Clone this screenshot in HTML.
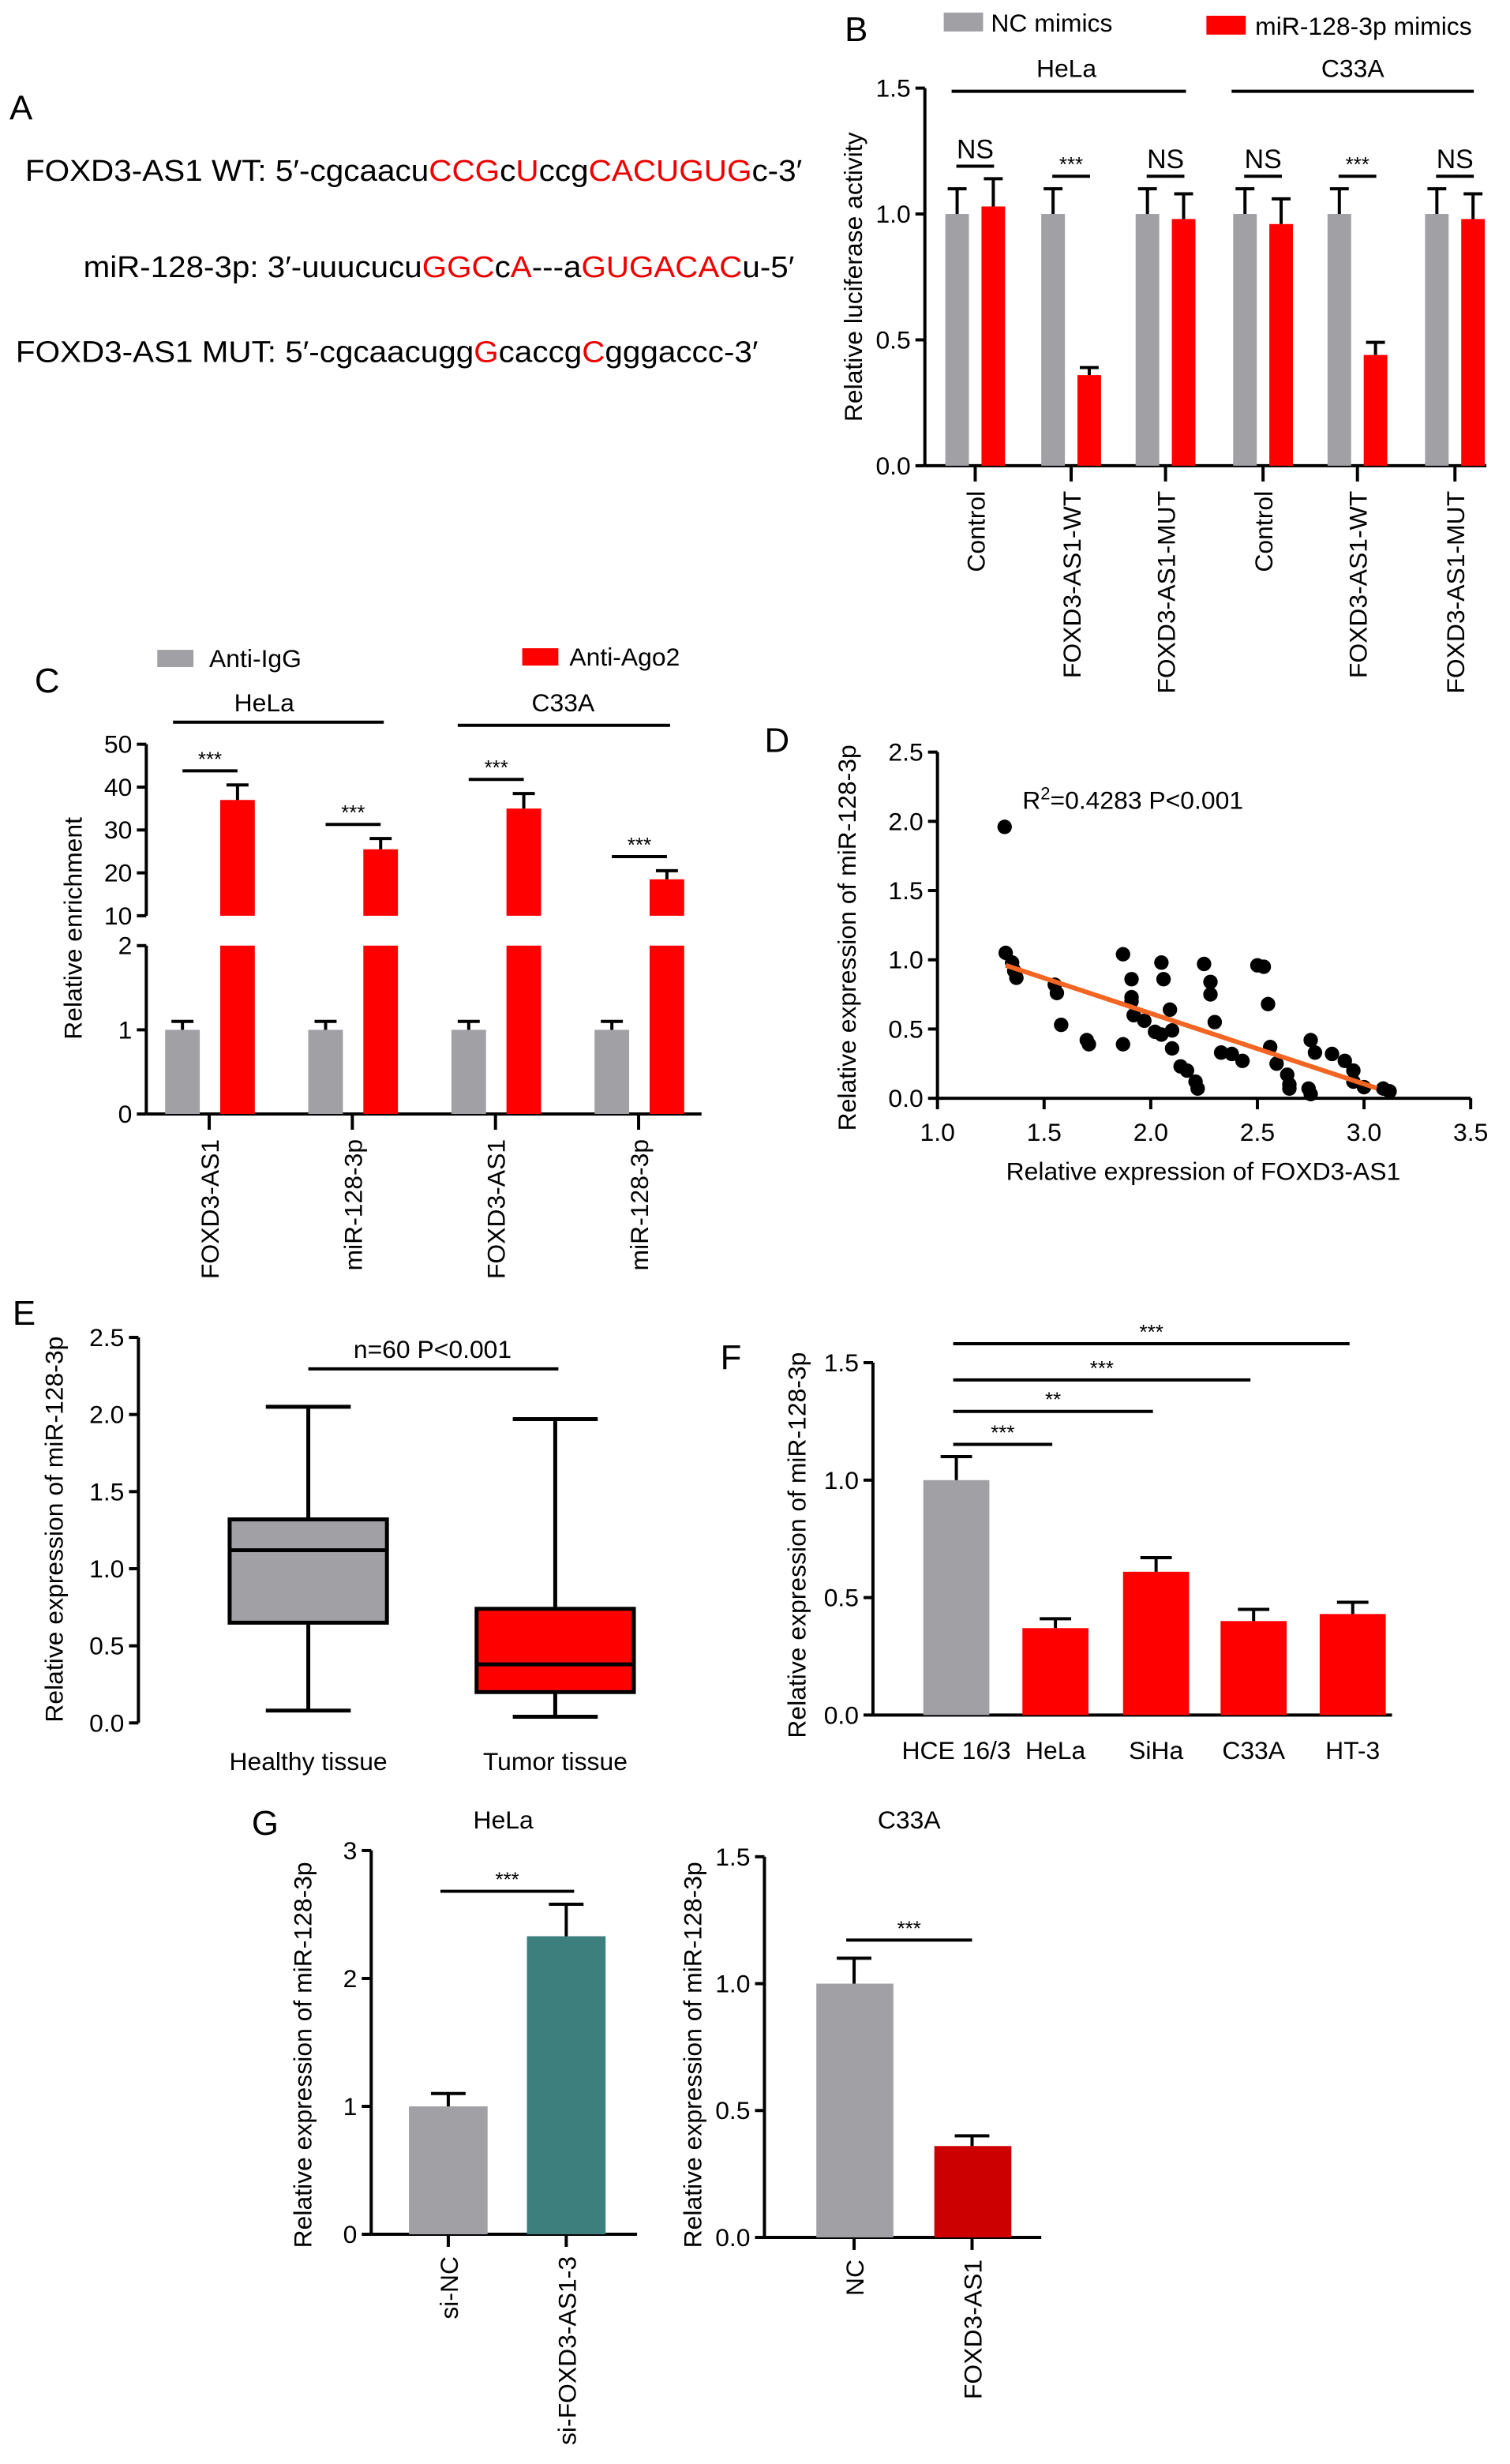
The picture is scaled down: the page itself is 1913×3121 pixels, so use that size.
<!DOCTYPE html>
<html><head><meta charset="utf-8"><style>
html,body{margin:0;padding:0;background:#fff;}
svg{display:block;font-family:"Liberation Sans",Arial,sans-serif;}
</style></head><body>
<svg id="fig" width="1913" height="3121" viewBox="0 0 960 1566" preserveAspectRatio="none" xmlns="http://www.w3.org/2000/svg">
<g font-size="19">
<text x="6" y="76" font-size="22">A</text>
<text x="16" y="115" textLength="494" lengthAdjust="spacingAndGlyphs">FOXD3-AS1 WT: 5′-cgcaacu<tspan fill="#e00">CCG</tspan>c<tspan fill="#e00">U</tspan>ccg<tspan fill="#e00">CACUGUG</tspan>c-3′</text>
<text x="53" y="176" textLength="452" lengthAdjust="spacingAndGlyphs">miR-128-3p: 3′-uuucucu<tspan fill="#e00">GGC</tspan>c<tspan fill="#e00">A</tspan>---a<tspan fill="#e00">GUGACAC</tspan>u-5′</text>
<text x="10" y="230" textLength="472" lengthAdjust="spacingAndGlyphs">FOXD3-AS1 MUT: 5′-cgcaacugg<tspan fill="#e00">G</tspan>caccg<tspan fill="#e00">C</tspan>gggaccc-3′</text>
</g>
</svg>
<script>
const NS='http://www.w3.org/2000/svg';
const svg=document.getElementById('fig');
function mk(tag,a,parent){const e=document.createElementNS(NS,tag);for(const k in a)e.setAttribute(k,a[k]);(parent||svg).appendChild(e);return e;}
function txt(s,a,parent){const e=mk('text',a,parent);e.textContent=s;return e;}
const GRAY='#a0a0a5',RED='#ff0000';

// ---------- Panel B data ----------
const bCats=['Control','FOXD3-AS1-WT','FOXD3-AS1-MUT','Control','FOXD3-AS1-WT','FOXD3-AS1-MUT'];
const bNC=[1,1,1,1,1,1];
const bNCerr=[0.1,0.1,0.1,0.1,0.1,0.1];
const bMim=[1.03,0.36,0.98,0.96,0.44,0.98];
const bMimErr=[0.11,0.03,0.1,0.1,0.05,0.1];
const bSig=['NS','***','NS','NS','***','NS'];
const bTicks=[0,0.5,1.0,1.5];

// ---------- Panel C data ----------
const cCats=['FOXD3-AS1','miR-128-3p','FOXD3-AS1','miR-128-3p'];
const cIgG=[1,1,1,1];
const cIgGErr=[0.1,0.1,0.1,0.1];
const cAgo=[37,25.5,35,18.5];
const cAgoErr=[3.5,2.5,3.5,2];
const cTicksLow=[0,1,2];
const cTicksHigh=[10,20,30,40,50];

// ---------- Panel D data ----------
const dX=[1.315,1.32,1.35,1.36,1.37,1.55,1.56,1.58,1.70,1.71,1.87,1.87,1.91,1.91,1.91,1.92,1.97,2.02,2.05,2.05,2.06,2.09,2.10,2.10,2.14,2.17,2.21,2.22,2.25,2.28,2.28,2.30,2.33,2.38,2.43,2.50,2.53,2.55,2.56,2.59,2.64,2.65,2.65,2.74,2.75,2.75,2.77,2.85,2.91,2.95,2.95,3.00,3.09,3.12];
const dY=[1.96,1.05,0.98,0.92,0.87,0.82,0.76,0.53,0.42,0.39,1.04,0.39,0.86,0.73,0.70,0.60,0.56,0.48,0.46,0.98,0.86,0.64,0.49,0.36,0.23,0.20,0.12,0.07,0.97,0.84,0.75,0.55,0.33,0.32,0.27,0.96,0.95,0.68,0.37,0.25,0.17,0.10,0.07,0.07,0.03,0.42,0.33,0.32,0.27,0.20,0.12,0.08,0.07,0.05];
const dFit=[-0.51,1.633];
const dFitRange=[1.32,3.06];
const dXTicks=[1.0,1.5,2.0,2.5,3.0,3.5];
const dYTicks=[0,0.5,1.0,1.5,2.0,2.5];

// ---------- Panel E data ----------
const eCats=['Healthy tissue','Tumor tissue'];
const eMin=[0.08,0.04];
const eQ1=[0.65,0.2];
const eMed=[1.12,0.38];
const eQ3=[1.32,0.74];
const eMax=[2.05,1.97];
const eTicks=[0,0.5,1.0,1.5,2.0,2.5];

// ---------- Panel F data ----------
const fCats=['HCE 16/3','HeLa','SiHa','C33A','HT-3'];
const fVals=[1.0,0.37,0.61,0.40,0.43];
const fErr=[0.1,0.04,0.06,0.05,0.05];
const fSig=['***','**','***','***'];
const fTicks=[0,0.5,1.0,1.5];

// ---------- Panel G data ----------
const g1Cats=['si-NC','si-FOXD3-AS1-3'];
const g1Vals=[1.0,2.33];
const g1Err=[0.1,0.25];
const g1Ticks=[0,1,2,3];
const g2Cats=['NC','FOXD3-AS1'];
const g2Vals=[1.0,0.36];
const g2Err=[0.1,0.04];
const g2Ticks=[0,0.5,1.0,1.5];

function fmt1(v){return v.toFixed(1);}
function yAxis(g,x,yTop,yBot,ticks,scale,f){
  const ax=mk('line',{x1:x,y1:yTop,x2:x,y2:yBot,stroke:'#000','stroke-width':2},g);
  
  
  ticks.forEach(t=>{const y=scale(t);
    const tk=mk('line',{x1:x-6,y1:y,x2:x,y2:y,stroke:'#000','stroke-width':2},g);
    
    
    const l=txt(f(t),{x:x-9,y:y+5.5,'font-size':16,'text-anchor':'end'},g);
    
    
  });
}
function vTitle(g,s,x,y){const t=txt(s,{x:x,y:y,'font-size':16,'text-anchor':'middle',transform:`rotate(-90 ${x} ${y})`},g);
  
  }
function rotLabel(g,s,x,y){const t=txt(s,{x:x,y:y,'font-size':16,'text-anchor':'end',transform:`rotate(-90 ${x} ${y})`},g);
  
  }
function bar(g,x,w,y0,y1,fill){const r=mk('rect',{x:x,y:Math.min(y0,y1),width:w,height:Math.abs(y0-y1),fill:fill},g);return r;}
function err(g,cx,yv,ye,w){mk('line',{x1:cx,y1:yv,x2:cx,y2:ye,stroke:'#000','stroke-width':2},g);
  mk('line',{x1:cx-w,y1:ye,x2:cx+w,y2:ye,stroke:'#000','stroke-width':2},g);}
function sig(g,x1,x2,y,s){const l=mk('line',{x1:x1,y1:y,x2:x2,y2:y,stroke:'#000','stroke-width':2},g);
  
  
  const t=txt(s,{x:(x1+x2)/2,y:s==='NS'?y-5:y-3,'font-size':s==='NS'?17:13,'text-anchor':'middle'},g);
  
  }
function panelLabel(s,x,y){const t=txt(s,{x:x,y:y,'font-size':22});
  
  }

// ===== Panel B =====
{const g=mk('g',{});


panelLabel('B',537,26);
const y=v=>296-v*160, ax=588;
const tx=[620,681,741,803,863,925];
yAxis(g,ax,56,296,bTicks,y,fmt1);
mk('line',{x1:ax,y1:296,x2:945,y2:296,stroke:'#000','stroke-width':2},g);
vTitle(g,'Relative luciferase activity',548,176);
bCats.forEach((c,i)=>{const t=tx[i];
  const b1=bar(g,t-19,15,y(0),y(bNC[i]),GRAY);
  
  
  err(g,t-11.5,y(bNC[i]),y(bNC[i]+bNCerr[i]),6);
  const b2=bar(g,t+4,15,y(0),y(bMim[i]),RED);
  
  
  err(g,t+11.5,y(bMim[i]),y(bMim[i]+bMimErr[i]),6);
  mk('line',{x1:t,y1:296,x2:t,y2:306,stroke:'#000','stroke-width':2},g);
  rotLabel(g,c,t+6,312);
  const top=Math.max(bNC[i]+bNCerr[i],bMim[i]+bMimErr[i]);
  sig(g,t-12,t+12,y(top)-8,bSig[i]);
});
mk('line',{x1:605,y1:58,x2:754,y2:58,stroke:'#000','stroke-width':2},g);
mk('line',{x1:783,y1:58,x2:937,y2:58,stroke:'#000','stroke-width':2},g);
txt('HeLa',{x:678,y:49,'font-size':16,'text-anchor':'middle'},g);
txt('C33A',{x:860,y:49,'font-size':16,'text-anchor':'middle'},g);
const lg1=mk('g',{},g);


mk('rect',{x:600,y:8,width:25,height:12,fill:GRAY},lg1);
txt('NC mimics',{x:630,y:20,'font-size':16},lg1);
const lg2=mk('g',{},g);


mk('rect',{x:767,y:10,width:25,height:12,fill:RED},lg2);
txt('miR-128-3p mimics',{x:798,y:22,'font-size':16},lg2);
}

// ===== Panel C =====
{const g=mk('g',{});


panelLabel('C',22,440);
const yl=v=>708-v*53.5, yh=v=>582-(v-10)*2.725, ax=93;
const tx=[133,224,315,406];
yAxis(g,ax,601,708,cTicksLow,yl,v=>String(v));
yAxis(g,ax,473,582,cTicksHigh,yh,v=>String(v));
mk('line',{x1:ax,y1:708,x2:446,y2:708,stroke:'#000','stroke-width':2},g);
vTitle(g,'Relative enrichment',52,590);
cCats.forEach((c,i)=>{const t=tx[i];
  const b1=bar(g,t-28,22,yl(0),yl(cIgG[i]),GRAY);
  
  
  err(g,t-17,yl(cIgG[i]),yl(cIgG[i]+cIgGErr[i]),7);
  const b2=bar(g,t+7,22,yl(0),yl(2),RED);
  
  
  const b3=bar(g,t+7,22,yh(10),yh(cAgo[i]),RED);
  
  
  err(g,t+18,yh(cAgo[i]),yh(cAgo[i]+cAgoErr[i]),7);
  mk('line',{x1:t,y1:708,x2:t,y2:718,stroke:'#000','stroke-width':2},g);
  rotLabel(g,c,t+6,724);
  sig(g,t-17,t+18,yh(cAgo[i]+cAgoErr[i])-9,'***');
});
mk('line',{x1:110,y1:459,x2:244,y2:459,stroke:'#000','stroke-width':2},g);
mk('line',{x1:291,y1:461,x2:426,y2:461,stroke:'#000','stroke-width':2},g);
txt('HeLa',{x:168,y:452,'font-size':16,'text-anchor':'middle'},g);
txt('C33A',{x:358,y:452,'font-size':16,'text-anchor':'middle'},g);
const lg1=mk('g',{},g);


mk('rect',{x:100,y:413,width:23,height:11,fill:GRAY},lg1);
txt('Anti-IgG',{x:133,y:424,'font-size':16},lg1);
const lg2=mk('g',{},g);


mk('rect',{x:332,y:412,width:23,height:11,fill:RED},lg2);
txt('Anti-Ago2',{x:362,y:423,'font-size':16},lg2);
}

// ===== Panel D =====
{const g=mk('g',{});


panelLabel('D',486,478);
const x=v=>596+(v-1)*135.6, y=v=>698-v*88;
yAxis(g,596,478,698,dYTicks,y,fmt1);
const xa=mk('line',{x1:596,y1:698,x2:935,y2:698,stroke:'#000','stroke-width':2},g);


dXTicks.forEach(t=>{mk('line',{x1:x(t),y1:698,x2:x(t),y2:705,stroke:'#000','stroke-width':2},g);
  const l=txt(fmt1(t),{x:x(t),y:725,'font-size':16,'text-anchor':'middle'},g);
  
  });
vTitle(g,'Relative expression of miR-128-3p',544,596);
const xt=txt('Relative expression of FOXD3-AS1',{x:765,y:750,'font-size':16,'text-anchor':'middle'},g);


dX.forEach((v,i)=>{const c=mk('circle',{cx:x(v),cy:y(dY[i]),r:4.6,fill:'#000'},g);
  
  });
const fl=mk('line',{x1:x(dFitRange[0]),y1:y(dFit[0]*dFitRange[0]+dFit[1]),x2:x(dFitRange[1]),y2:y(dFit[0]*dFitRange[1]+dFit[1]),stroke:'#f26522','stroke-width':3},g);


const st=txt('',{x:650,y:514,'font-size':16},g);
st.innerHTML='R<tspan dy="-6" font-size="11">2</tspan><tspan dy="6">=0.4283 P&lt;0.001</tspan>';


}

// ===== Panel E =====
{const g=mk('g',{});


panelLabel('E',8,842);
const y=v=>1095-v*98, ax=88;
yAxis(g,ax,850,1095,eTicks,y,fmt1);
vTitle(g,'Relative expression of miR-128-3p',40,972);
const cx=[196,353], fills=[GRAY,RED];
eCats.forEach((c,i)=>{const b=mk('g',{},g);
  
  
  mk('line',{x1:cx[i],y1:y(eMax[i]),x2:cx[i],y2:y(eMin[i]),stroke:'#000','stroke-width':2.5},b);
  mk('line',{x1:cx[i]-27,y1:y(eMax[i]),x2:cx[i]+27,y2:y(eMax[i]),stroke:'#000','stroke-width':2.5},b);
  mk('line',{x1:cx[i]-27,y1:y(eMin[i]),x2:cx[i]+27,y2:y(eMin[i]),stroke:'#000','stroke-width':2.5},b);
  mk('rect',{x:cx[i]-50,y:y(eQ3[i]),width:100,height:y(eQ1[i])-y(eQ3[i]),fill:fills[i],stroke:'#000','stroke-width':2.5},b);
  mk('line',{x1:cx[i]-50,y1:y(eMed[i]),x2:cx[i]+50,y2:y(eMed[i]),stroke:'#000','stroke-width':2.5},b);
  const l=txt(c,{x:cx[i],y:1125,'font-size':16,'text-anchor':'middle'},g);
  
  
});
const sl=mk('line',{x1:196,y1:870,x2:355,y2:870,stroke:'#000','stroke-width':2},g);


txt('n=60 P<0.001',{x:275,y:863,'font-size':16,'text-anchor':'middle'},g);
}

// ===== Panel F =====
{const g=mk('g',{});


panelLabel('F',458,870);
const y=v=>1090-v*149.3, ax=555;
const tx=[608,671,735,797,860];
yAxis(g,ax,866,1090,fTicks,y,fmt1);
mk('line',{x1:ax,y1:1090,x2:885,y2:1090,stroke:'#000','stroke-width':2},g);
vTitle(g,'Relative expression of miR-128-3p',512,982);
fCats.forEach((c,i)=>{const t=tx[i];
  const b=bar(g,t-21,42,y(0),y(fVals[i]),i===0?GRAY:RED);
  
  
  err(g,t,y(fVals[i]),y(fVals[i]+fErr[i]),10);
  const l=txt(c,{x:t,y:1118,'font-size':16,'text-anchor':'middle'},g);
  
  
});
const sy=[918,897,877,854];
fSig.forEach((s,i)=>sig(g,606,tx[i+1]-2,sy[i],s));
}

// ===== Panel G =====
{const g=mk('g',{});


panelLabel('G',160,1166);
const y=v=>1420-v*81.3, ax=236, tx=[285,360], fills=[GRAY,'#3d7f7d'];
yAxis(g,ax,1176,1420,g1Ticks,y,v=>String(v));
mk('line',{x1:ax,y1:1420,x2:405,y2:1420,stroke:'#000','stroke-width':2},g);
vTitle(g,'Relative expression of miR-128-3p',198,1306);
txt('HeLa',{x:320,y:1162,'font-size':16,'text-anchor':'middle'},g);
g1Cats.forEach((c,i)=>{const b=bar(g,tx[i]-25,50,y(0),y(g1Vals[i]),fills[i]);
  
  
  err(g,tx[i],y(g1Vals[i]),y(g1Vals[i]+g1Err[i]),11);
  mk('line',{x1:tx[i],y1:1420,x2:tx[i],y2:1428,stroke:'#000','stroke-width':2},g);
  rotLabel(g,c,tx[i]+6,1434);});
sig(g,280,365,1202,'***');
}
{const g=mk('g',{});


const y=v=>1422-v*161.3, ax=486, tx=[543,618], fills=[GRAY,'#cc0000'];
yAxis(g,ax,1180,1422,g2Ticks,y,fmt1);
mk('line',{x1:ax,y1:1422,x2:662,y2:1422,stroke:'#000','stroke-width':2},g);
vTitle(g,'Relative expression of miR-128-3p',446,1306);
txt('C33A',{x:578,y:1162,'font-size':16,'text-anchor':'middle'},g);
g2Cats.forEach((c,i)=>{const b=bar(g,tx[i]-24,49,y(0),y(g2Vals[i]),fills[i]);
  
  
  err(g,tx[i],y(g2Vals[i]),y(g2Vals[i]+g2Err[i]),11);
  mk('line',{x1:tx[i],y1:1422,x2:tx[i],y2:1430,stroke:'#000','stroke-width':2},g);
  rotLabel(g,c,tx[i]+6,1436);});
sig(g,538,618,1233,'***');
}
</script>
</body></html>
